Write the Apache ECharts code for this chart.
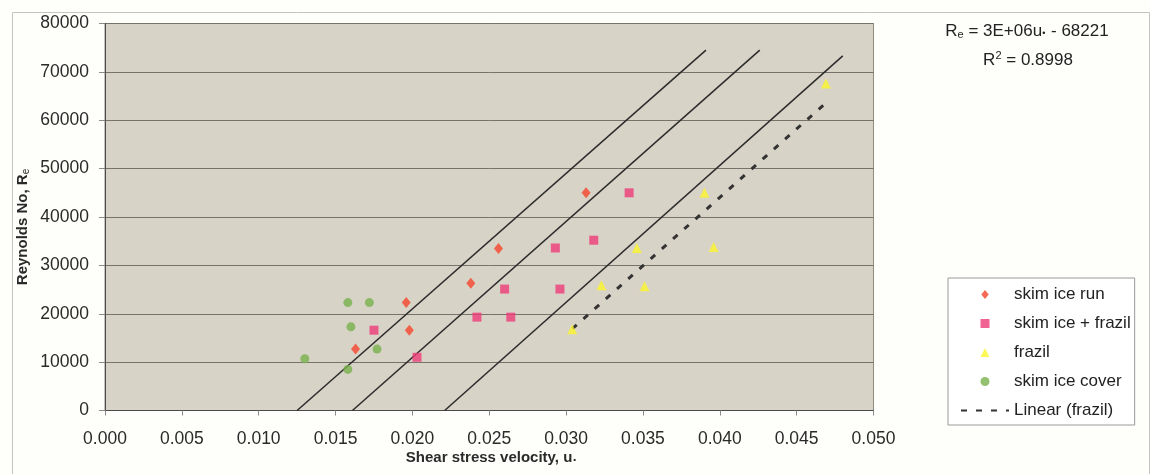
<!DOCTYPE html>
<html>
<head>
<meta charset="utf-8">
<script src="https://cdn.jsdelivr.net/npm/echarts@6/dist/echarts.min.js"></script>
<style>
  html, body { margin: 0; padding: 0; background: #fefefb; }
  #chart { width: 1150px; height: 474px; }
</style>
</head>
<body>
<div id="chart"></div>
<script>
// ---- Data ----
const xTicks = ['0.000','0.005','0.010','0.015','0.020','0.025','0.030','0.035','0.040','0.045','0.050'];
const yTicks = [0, 10000, 20000, 30000, 40000, 50000, 60000, 70000, 80000];

const skimIceRun = [
  [0.0163, 12700], [0.0196, 22300], [0.0198, 16600], [0.0238, 26300],
  [0.0256, 33500], [0.0313, 45000]
];
const skimIceFrazil = [
  [0.0175, 16600], [0.0203, 11000], [0.0242, 19300], [0.0260, 25100],
  [0.0264, 19300], [0.0293, 33600], [0.0296, 25100], [0.0318, 35200],
  [0.0341, 45000]
];
const frazil = [
  [0.0304, 16800], [0.0323, 25900], [0.0346, 33600], [0.0351, 25700],
  [0.0390, 45000], [0.0396, 33800], [0.0469, 67600]
];
const skimIceCover = [
  [0.0130, 10700], [0.0158, 8500], [0.0158, 22300], [0.0160, 17300],
  [0.0172, 22300], [0.0177, 12700]
];
const linearFrazil = [[0.0304, 16900], [0.0468, 63300]];
const guideLine1 = [[0.0125, 0], [0.0391, 74500]];
const guideLine2 = [[0.0161, 0], [0.0426, 74500]];
const guideLine3 = [[0.0221, 0], [0.0480, 73300]];

const seriesNames = ['skim ice run', 'skim ice + frazil', 'frazil', 'skim ice cover', 'Linear (frazil)'];
const equationText = ['3E+06u', ' - 68221'];
const r2Text = ' = 0.8998';

// ---- Chart ----
const FONT = '"Liberation Sans", Arial, sans-serif';
const chart = echarts.init(document.getElementById('chart'), null, { renderer: 'canvas' });

const guide = (name, data) => ({
  name: name, type: 'line', data: data, symbol: 'none', silent: true,
  lineStyle: { color: '#2b2b2b', width: 1.5 }, z: 3, animation: false
});

// legend icon shapes (paths keep their aspect ratio inside the legend icon box)
const ICON_DIAMOND = 'path://M5,0L10,6L5,12L0,6Z';
const ICON_SQUARE = 'path://M0,0H10V10H0Z';
const ICON_TRIANGLE = 'path://M5,0L10,10L0,10Z';
const ICON_CIRCLE = 'path://M0,5A5,5 0 1,0 10,5A5,5 0 1,0 0,5Z';

const option = {
  animation: false,
  backgroundColor: '#fefefb',
  grid: {
    left: 105, right: 276.5, top: 23.5, bottom: 63.5,
    show: true, backgroundColor: '#d8d3c7', borderColor: '#8e8a80', borderWidth: 1
  },
  xAxis: {
    type: 'value', min: 0, max: 0.05, interval: 0.005,
    axisLine: { show: true, lineStyle: { color: '#4a4a4a', width: 1 } },
    axisTick: { show: true, length: 5, lineStyle: { color: '#8a8a8a' } },
    splitLine: { show: false },
    axisLabel: {
      margin: 20, fontSize: 17.5, color: '#2a2a2a', fontFamily: FONT,
      formatter: (v) => xTicks[Math.round(v / 0.005)]
    }
  },
  yAxis: {
    type: 'value', min: yTicks[0], max: yTicks[yTicks.length - 1], interval: 10000,
    axisLine: { show: true, lineStyle: { color: '#4a4a4a', width: 1 } },
    axisTick: { show: true, length: 6, lineStyle: { color: '#8a8a8a' } },
    splitLine: { show: true, lineStyle: { color: '#77736a', width: 1 } },
    axisLabel: { margin: 16, fontSize: 17.5, color: '#2a2a2a', fontFamily: FONT,
      formatter: (v) => String(v) }
  },
  legend: {
    orient: 'vertical', left: 948, top: 278,
    padding: [8, 4, 6, 12], itemGap: 12, itemWidth: 48, itemHeight: 9,
    symbolKeepAspect: true,
    backgroundColor: '#ffffff', borderColor: '#9a9a9a', borderWidth: 1, borderRadius: 0,
    data: [
      { name: seriesNames[0], icon: ICON_DIAMOND },
      { name: seriesNames[1], icon: ICON_SQUARE },
      { name: seriesNames[2], icon: ICON_TRIANGLE },
      { name: seriesNames[3], icon: ICON_CIRCLE },
      { name: seriesNames[4], itemStyle: { opacity: 0 } }
    ],
    textStyle: { fontSize: 17, color: '#222', fontFamily: FONT }
  },
  series: [
    guide('g1', guideLine1), guide('g2', guideLine2), guide('g3', guideLine3),
    {
      name: seriesNames[4], type: 'line', data: linearFrazil, symbol: 'none',
      itemStyle: { color: '#333333' },
      lineStyle: { color: '#333333', width: 3, type: [6, 9] }, z: 4
    },
    { name: seriesNames[0], type: 'scatter', data: skimIceRun, symbol: 'diamond', symbolSize: [9, 11],
      itemStyle: { color: '#f5452c' }, z: 5 },
    { name: seriesNames[1], type: 'scatter', data: skimIceFrazil, symbol: 'rect', symbolSize: 9,
      itemStyle: { color: '#ee3c78' }, z: 5 },
    { name: seriesNames[2], type: 'scatter', data: frazil, symbol: 'triangle', symbolSize: [10, 10],
      itemStyle: { color: '#fbf62a' }, z: 5 },
    { name: seriesNames[3], type: 'scatter', data: skimIceCover, symbol: 'circle', symbolSize: 9,
      itemStyle: { color: '#78b24c' }, z: 5 }
  ],
  graphic: [
    { type: 'rect', left: 10, top: 10, shape: { width: 1137, height: 462 },
      style: { fill: 'none', stroke: '#c4c4c0', lineWidth: 1 }, z: 0, silent: true },
    { type: 'text', x: 1027, y: 31,
      style: {
        text: '{n|R}{s|e}{n| = ' + equationText[0] + '}{d|•}{n|' + equationText[1] + '}',
        align: 'center', verticalAlign: 'middle', fill: '#222',
        rich: {
          n: { fontSize: 17, fontFamily: FONT, fill: '#222' },
          s: { fontSize: 11, fontFamily: FONT, fill: '#222', padding: [8, 0, 0, 0] },
          d: { fontSize: 9, fontFamily: FONT, fill: '#222', padding: [5, 1, 0, 0] }
        }
      }, z: 10 },
    { type: 'text', x: 1028, y: 60,
      style: {
        text: '{n|R}{p|2}{n|' + r2Text + '}',
        align: 'center', verticalAlign: 'middle', fill: '#222',
        rich: {
          n: { fontSize: 17, fontFamily: FONT, fill: '#222' },
          p: { fontSize: 11, fontFamily: FONT, fill: '#222', padding: [0, 0, 8, 0] }
        }
      }, z: 10 },
    { type: 'text', x: 491, y: 458,
      style: {
        text: '{n|Shear stress velocity, u}{d|•}',
        align: 'center', verticalAlign: 'middle', fill: '#2a2a2a',
        rich: {
          n: { fontSize: 15, fontWeight: 'bold', fontFamily: FONT, fill: '#2a2a2a' },
          d: { fontSize: 8, fontWeight: 'bold', fontFamily: FONT, fill: '#2a2a2a', padding: [4, 0, 0, 1] }
        }
      }, z: 10 },
    { type: 'text', x: 23, y: 227, rotation: Math.PI / 2,
      style: {
        text: '{n|Reynolds No, R}{s|e}',
        align: 'center', verticalAlign: 'middle', fill: '#2a2a2a',
        rich: {
          n: { fontSize: 15, fontWeight: 'bold', fontFamily: FONT, fill: '#2a2a2a' },
          s: { fontSize: 10, fontFamily: FONT, fill: '#2a2a2a', padding: [7, 0, 0, 0] }
        }
      }, z: 10 }
  ]
};
chart.setOption(option);
</script>
</body>
</html>
